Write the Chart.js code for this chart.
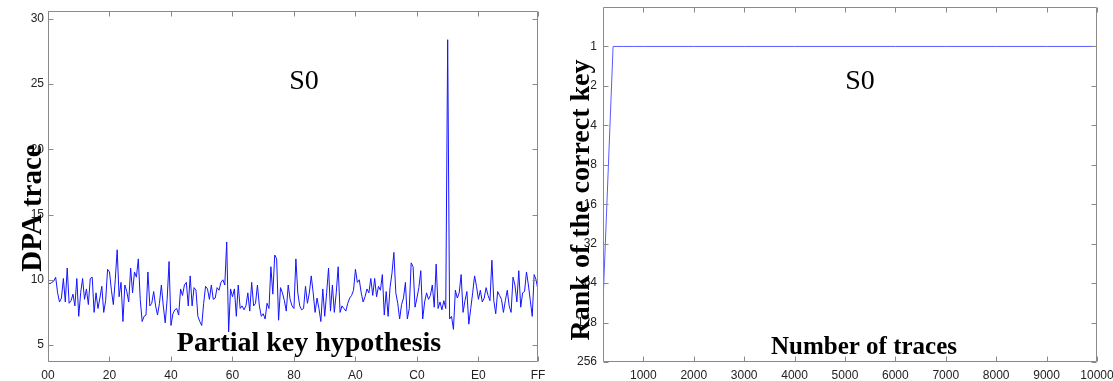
<!DOCTYPE html>
<html>
<head>
<meta charset="utf-8">
<script src="https://cdn.jsdelivr.net/npm/chart.js@4"></script>
<style>
  html, body { margin: 0; padding: 0; background: #fff; }
  #wrap { position: relative; width: 1113px; height: 381px; }
  .panel { position: absolute; top: 0; height: 381px; }
  #left { left: 0; width: 556px; }
  #right { left: 556px; width: 557px; }
</style>
</head>
<body>
<div id="wrap">
  <div class="panel" id="left"><canvas id="dpaChart"></canvas></div>
  <div class="panel" id="right"><canvas id="rankChart"></canvas></div>
</div>
<script>
// left panel: DPA trace per partial key hypothesis (0x00..0xFF)
const keyHypotheses = Array.from({ length: 256 }, (_, i) => i);
const dpaValues = [
  9.8, 9.7, 9.8, 9.9, 10.2, 9.0, 8.3, 8.6, 10.1, 8.3, 10.9, 8.2, 8.4, 8.9, 8.0, 10.1,
  7.2, 9.0, 10.1, 8.5, 9.3, 8.1, 10.1, 10.2, 7.5, 9.0, 7.8, 8.6, 9.5, 7.5, 8.4, 10.8,
  10.6, 9.2, 8.1, 10.0, 12.3, 8.7, 9.8, 6.8, 9.6, 9.1, 8.3, 10.9, 9.0, 10.6, 10.2, 11.6,
  8.5, 6.8, 7.2, 7.3, 10.6, 8.0, 8.2, 9.1, 8.0, 7.3, 8.2, 9.6, 8.0, 6.7, 8.5, 11.4,
  6.5, 7.4, 7.7, 7.8, 7.3, 9.3, 8.8, 9.6, 9.8, 8.0, 10.3, 8.0, 9.4, 9.2, 7.2, 6.8,
  6.5, 8.2, 9.5, 9.3, 8.5, 9.6, 8.5, 8.6, 9.4, 9.2, 9.8, 10.0, 9.6, 12.9, 6.0, 9.3,
  8.7, 9.3, 7.2, 9.6, 7.8, 8.0, 7.7, 8.0, 9.0, 7.6, 9.8, 8.0, 8.2, 9.6, 8.0, 7.2,
  7.4, 7.0, 8.2, 7.8, 11.0, 8.9, 11.9, 11.6, 6.9, 9.4, 9.0, 8.4, 7.6, 9.6, 8.5, 8.0,
  7.8, 11.6, 9.0, 8.0, 7.7, 7.8, 9.5, 8.2, 9.0, 10.3, 9.0, 7.5, 8.6, 7.8, 6.8, 9.3,
  7.2, 9.0, 10.9, 7.6, 9.6, 7.5, 9.0, 11.0, 7.5, 8.0, 7.8, 7.6, 8.2, 8.6, 8.8, 9.2,
  10.8, 9.8, 10.0, 9.0, 8.3, 8.7, 9.3, 9.0, 10.1, 8.8, 10.1, 8.7, 9.5, 9.2, 10.4, 7.3,
  9.1, 7.2, 9.4, 10.5, 12.1, 9.0, 8.2, 7.0, 8.1, 8.6, 9.8, 7.0, 7.8, 11.3, 11.0, 7.9,
  8.6, 9.4, 10.7, 7.0, 8.3, 9.0, 8.5, 8.8, 9.6, 7.9, 11.2, 7.8, 8.3, 7.7, 8.4, 7.8,
  28.4, 7.0, 7.2, 6.2, 9.2, 8.6, 9.0, 10.4, 7.5, 8.4, 9.1, 6.6, 7.8, 9.0, 10.3, 9.5,
  8.5, 9.2, 8.3, 8.6, 9.4, 8.8, 8.4, 11.5, 8.4, 7.4, 9.1, 8.8, 8.5, 7.5, 8.4, 9.2,
  8.0, 7.5, 10.2, 9.6, 8.3, 10.7, 7.9, 9.0, 9.1, 10.6, 9.6, 8.4, 7.2, 10.4, 10.0, 9.2
];
const dpaXTicks = [0, 32, 64, 96, 128, 160, 192, 224, 255];
const dpaXLabels = ['00', '20', '40', '60', '80', 'A0', 'C0', 'E0', 'FF'];
const dpaYTicks = [5, 10, 15, 20, 25, 30];

// right panel: rank of the correct key vs number of traces
const traceCounts = [200, 400, 600, 800, 1000, 2000, 3000, 4000, 5000, 6000, 7000, 8000, 9000, 10000];
const keyRanks = [90, 1, 1, 1, 1, 1, 1, 1, 1, 1, 1, 1, 1, 1];
const traceTicks = [1000, 2000, 3000, 4000, 5000, 6000, 7000, 8000, 9000, 10000];
const rankTicks = [1, 2, 4, 8, 16, 32, 64, 128, 256];

const tickFont = { family: '"Liberation Sans", Arial, sans-serif', size: 12 };
const tickColor = '#222';

// matlab-like box with inward ticks on all four sides
const boxFrame = {
    id: 'boxFrame',
    afterDatasetsDraw(chart) {
        const { ctx, chartArea: a, scales: { x, y } } = chart;
        const L = Math.round(a.left) + 0.5, R = Math.round(a.right) - 0.5;
        const T = Math.round(a.top) + 0.5, B = Math.round(a.bottom) - 0.5;
        ctx.save();
        ctx.strokeStyle = '#8a8a8a';
        ctx.lineWidth = 1;
        ctx.beginPath();
        ctx.rect(L, T, R - L, B - T);
        x.ticks.forEach(t => {
            const px = Math.round(x.getPixelForValue(t.value)) + 0.5;
            ctx.moveTo(px, B); ctx.lineTo(px, B - 5);
            ctx.moveTo(px, T); ctx.lineTo(px, T + 5);
        });
        y.ticks.forEach(t => {
            const py = Math.round(y.getPixelForValue(t.value)) + 0.5;
            ctx.moveTo(L, py); ctx.lineTo(L + 5, py);
            ctx.moveTo(R, py); ctx.lineTo(R - 5, py);
        });
        ctx.stroke();
        ctx.restore();
    }
};

const freeText = {
    id: 'freeText',
    afterDraw(chart, args, opts) {
        const ctx = chart.ctx;
        (opts.items || []).forEach(it => {
            ctx.save();
            ctx.fillStyle = '#000';
            ctx.font = it.font;
            ctx.textAlign = 'center';
            ctx.textBaseline = 'alphabetic';
            ctx.translate(it.x, it.y);
            if (it.rotate) ctx.rotate(it.rotate);
            ctx.fillText(it.text, 0, 0);
            ctx.restore();
        });
    }
};

// keep the plot box where the layout padding puts it, not where label overflow would
const fitX = s => { s.height = 19; s.paddingLeft = 0; s.paddingRight = 0; };
const fitY = w => s => { s.width = w; s.paddingTop = 0; s.paddingBottom = 0; };

const serif = '"Liberation Serif", "Times New Roman", serif';

new Chart(document.getElementById('dpaChart'), {
    type: 'line',
    data: {
        datasets: [{
            data: keyHypotheses.map((k, i) => ({ x: k, y: dpaValues[i] })),
            borderColor: 'rgb(20,20,255)',
            borderWidth: 1,
            pointRadius: 0,
            tension: 0
        }]
    },
    options: {
        responsive: true,
        maintainAspectRatio: false,
        animation: false,
        layout: { padding: { top: 11, right: 18, left: 0, bottom: 0 } },
        scales: {
            x: {
                type: 'linear',
                min: 0,
                max: 255,
                grid: { display: false, drawTicks: false },
                border: { display: false },
                afterBuildTicks: s => { s.ticks = dpaXTicks.map(v => ({ value: v })); },
                afterFit: fitX,
                ticks: {
                    autoSkip: false, maxRotation: 0, padding: 6,
                    font: tickFont, color: tickColor,
                    callback: v => dpaXLabels[dpaXTicks.indexOf(v)]
                }
            },
            y: {
                min: 3.7,
                max: 30.6,
                grid: { display: false, drawTicks: false },
                border: { display: false },
                afterBuildTicks: s => { s.ticks = dpaYTicks.map(v => ({ value: v })); },
                afterFit: fitY(48),
                ticks: { padding: 4, font: tickFont, color: tickColor }
            }
        },
        plugins: {
            legend: { display: false },
            tooltip: { enabled: false },
            freeText: {
                items: [
                    { text: 'S0', x: 304, y: 89, font: '28px ' + serif },
                    { text: 'Partial key hypothesis', x: 309, y: 351, font: 'bold 28px ' + serif },
                    { text: 'DPA trace', x: 41, y: 208, rotate: -Math.PI / 2, font: 'bold 29px ' + serif }
                ]
            }
        }
    },
    plugins: [boxFrame, freeText]
});

new Chart(document.getElementById('rankChart'), {
    type: 'line',
    data: {
        datasets: [{
            data: traceCounts.map((n, i) => ({ x: n, y: keyRanks[i] })),
            borderColor: 'rgb(90,90,255)',
            borderWidth: 1,
            pointRadius: 0,
            tension: 0
        }]
    },
    options: {
        responsive: true,
        maintainAspectRatio: false,
        animation: false,
        layout: { padding: { top: 7, right: 16, left: 0, bottom: 0 } },
        scales: {
            x: {
                type: 'linear',
                min: 200,
                max: 10000,
                grid: { display: false, drawTicks: false },
                border: { display: false },
                afterBuildTicks: s => { s.ticks = traceTicks.map(v => ({ value: v })); },
                afterFit: fitX,
                ticks: {
                    autoSkip: false, maxRotation: 0, padding: 6,
                    font: tickFont, color: tickColor,
                    callback: v => String(v)
                }
            },
            y: {
                type: 'logarithmic',
                reverse: true,
                min: 0.5,
                max: 256,
                grid: { display: false, drawTicks: false },
                border: { display: false },
                afterBuildTicks: s => { s.ticks = rankTicks.map(v => ({ value: v })); },
                afterFit: fitY(47),
                ticks: { padding: 6, font: tickFont, color: tickColor, callback: v => String(v) }
            }
        },
        plugins: {
            legend: { display: false },
            tooltip: { enabled: false },
            freeText: {
                items: [
                    { text: 'S0', x: 304, y: 89, font: '28px ' + serif },
                    { text: 'Number of traces', x: 308, y: 354, font: 'bold 25px ' + serif },
                    { text: 'Rank of the correct key', x: 33, y: 200, rotate: -Math.PI / 2, font: 'bold 28px ' + serif }
                ]
            }
        }
    },
    plugins: [boxFrame, freeText]
});
</script>
</body>
</html>
